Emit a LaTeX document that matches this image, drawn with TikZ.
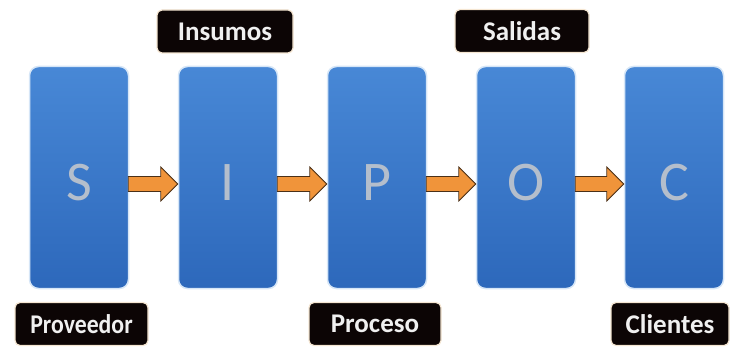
\documentclass[tikz,border=0pt]{standalone}
\usepackage{fontspec}
\setmainfont{Carlito}
\usetikzlibrary{calc}
\definecolor{boxtop}{HTML}{4888D6}
\definecolor{boxbot}{HTML}{2D68BB}
\definecolor{halo}{HTML}{D6E6F7}
\definecolor{labbk}{HTML}{0C0505}
\definecolor{labglow}{HTML}{F5E6D2}
\definecolor{arrfill}{HTML}{F0943A}
\definecolor{arredge}{HTML}{4A3018}
\definecolor{letgray}{HTML}{B4BECC}
\newcommand\blockarr[2]{%
  \path[barr] let \p1=(#1.east), \p2=(#2.west) in
    (\x1-1pt,\y1-6.5pt+7.5pt) -- (\x2-17pt,\y1-6.5pt+7.5pt) -- (\x2-17pt,\y1-6.5pt+17pt)
    -- (\x2,\y1-6.5pt) -- (\x2-17pt,\y1-6.5pt-17pt) -- (\x2-17pt,\y1-6.5pt-7.5pt)
    -- (\x1-1pt,\y1-6.5pt-7.5pt) -- cycle;}
\begin{document}
\begin{tikzpicture}[x=1pt,y=-1pt,
  stage/.style={rounded corners=9pt, minimum width=99pt, minimum height=222pt,
    top color=boxtop, bottom color=boxbot, draw=halo, line width=1.5pt, inner sep=0pt},
  lettr/.style={font=\fontsize{56}{60}\selectfont, text=letgray, inner sep=0pt},
  lab/.style={fill=labbk, draw=labglow, line width=1.2pt, text=white!94!black,
    font=\bfseries\fontsize{27}{30}\selectfont, rounded corners=5pt,
    minimum height=43pt, inner sep=0pt},
  barr/.style={fill=arrfill, draw=arredge, line width=0.8pt, line join=miter}]
\path[use as bounding box] (0,0) rectangle (735,347);

\node[stage] (s) at (79,177.5) {};
\node[stage] (i) at (228,177.5) {};
\node[stage] (p) at (377,177.5) {};
\node[stage] (o) at (526,177.5) {};
\node[stage] (c) at (674,177.5) {};

\node[lettr] (sl) at ([yshift=-5pt]s.center) {S};
\node[lettr] (il) at ([yshift=-5pt]i.center) {I};
\node[lettr] (pl) at ([yshift=-5pt]p.center) {P};
\node[lettr] (ol) at ([yshift=-5pt]o.center) {O};
\node[lettr] (cl) at ([yshift=-5pt]c.center) {C};

\blockarr{s}{i}
\blockarr{i}{p}
\blockarr{p}{o}
\blockarr{o}{c}

\node[lab, minimum width=136pt] (ins) at (225,31.5) {Insumos};
\node[lab, minimum width=134pt] (sal) at (522,31) {Salidas};
\node[lab, minimum width=133pt] (prov) at (81.5,324) {\scalebox{0.88}[1]{Proveedor}};
\node[lab, minimum width=132pt] (proc) at (375,324) {Proceso};
\node[lab, minimum width=118pt] (cli) at (670,324) {Clientes};
\end{tikzpicture}
\end{document}
